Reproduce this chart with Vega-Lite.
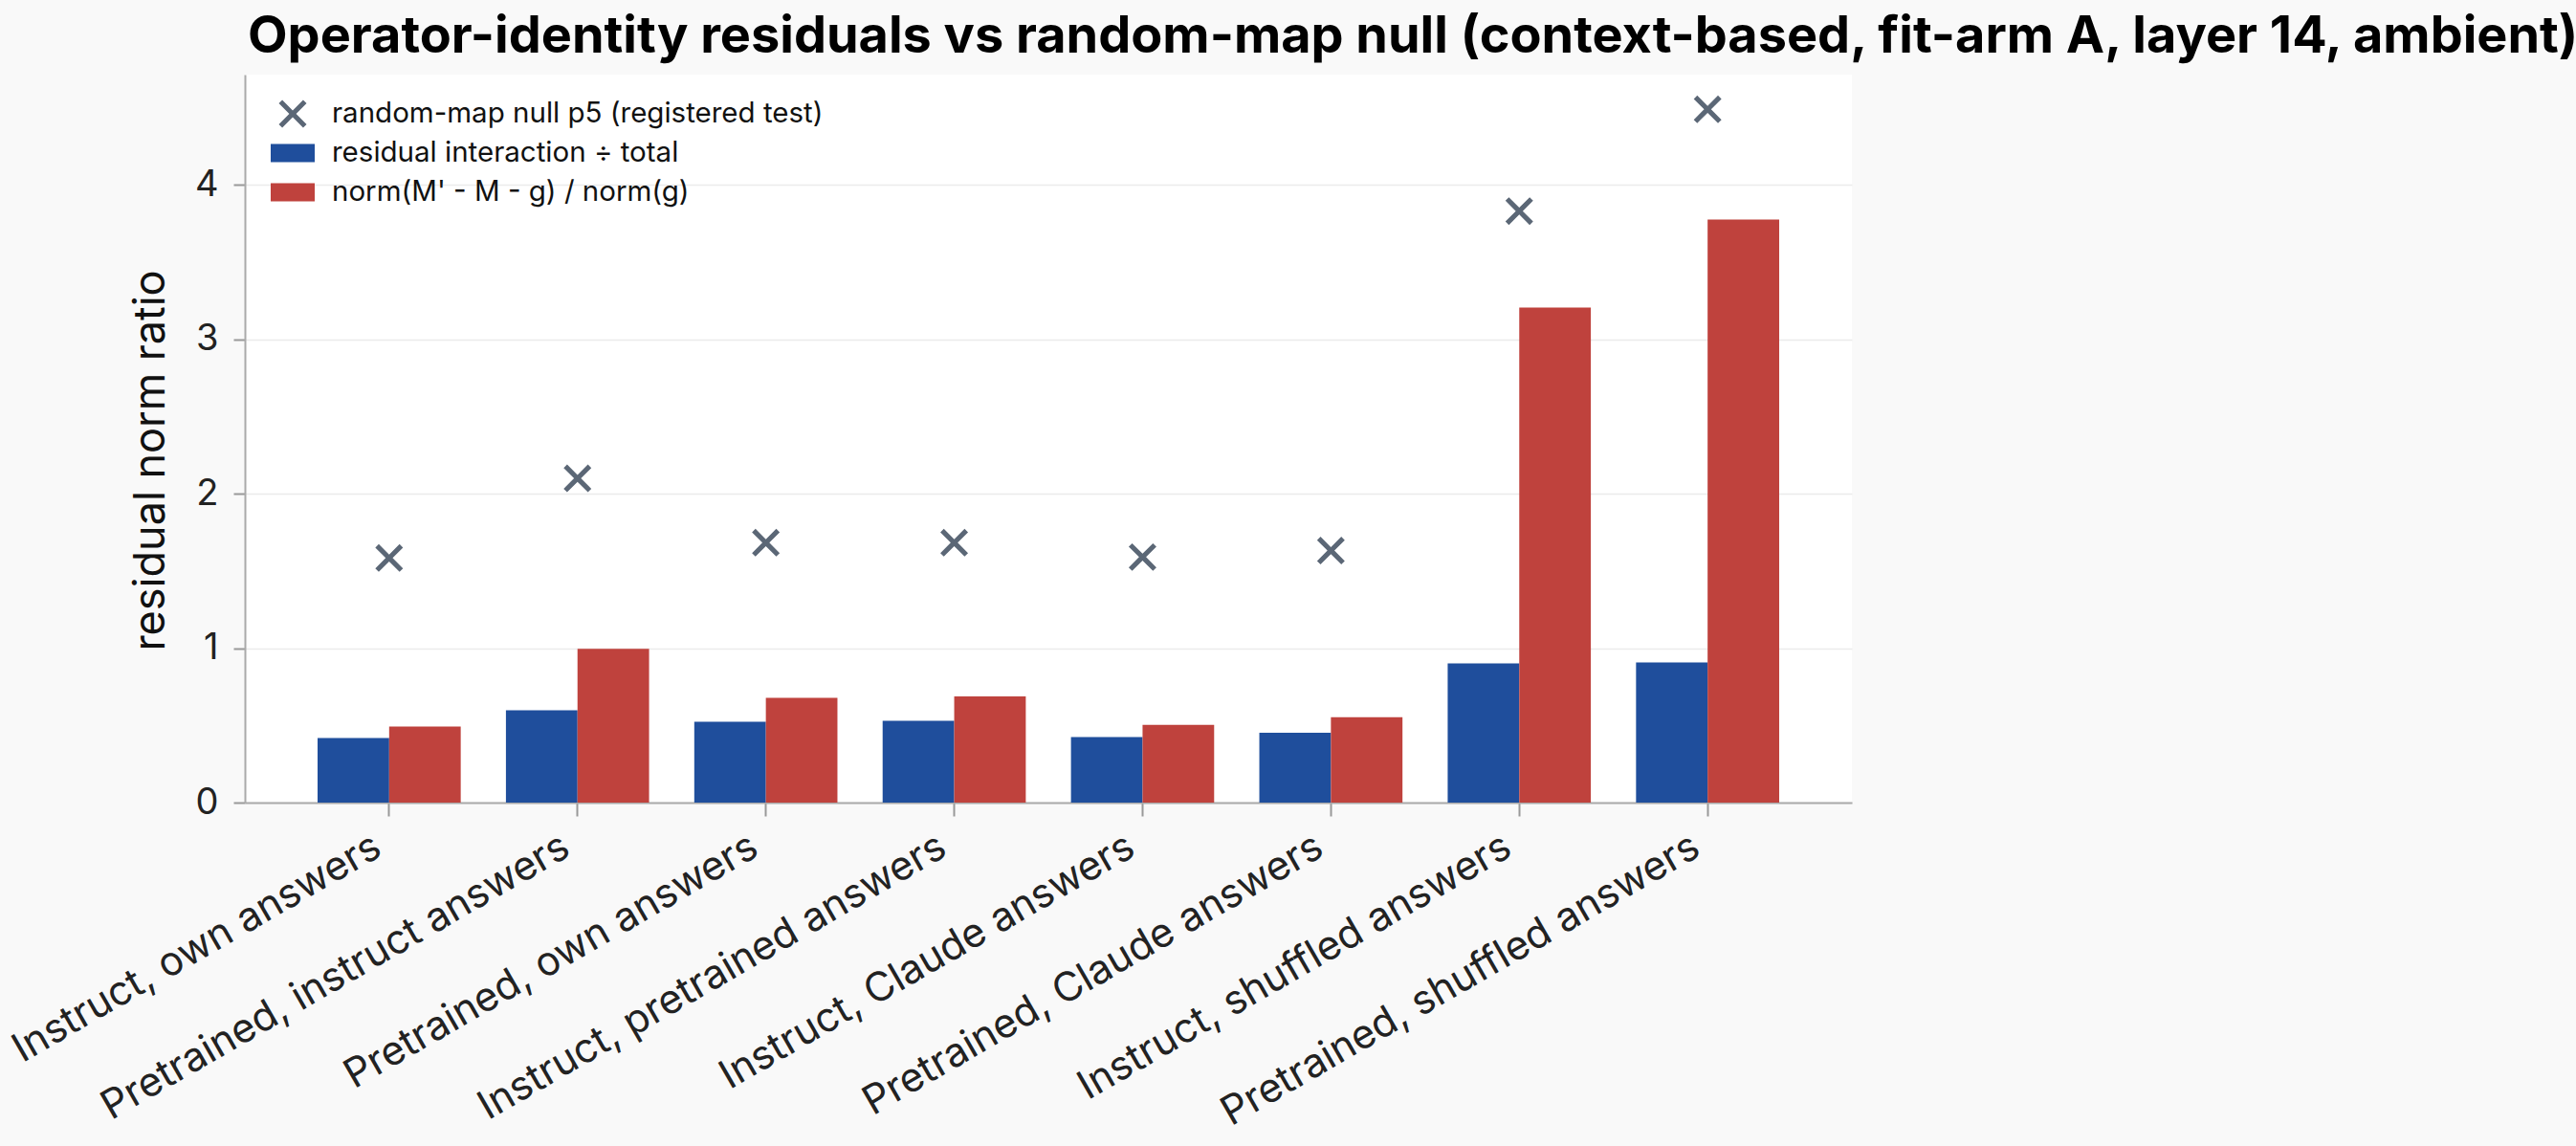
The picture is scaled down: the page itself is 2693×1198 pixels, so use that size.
{
  "$schema": "https://vega.github.io/schema/vega-lite/v6.json",
  "width": 1680,
  "height": 761,
  "autosize": {"type": "none"},
  "padding": {"left": 256, "top": 78, "right": 757, "bottom": 359},
  "background": "#f9f9f9",
  "title": {
    "text": "Operator-identity residuals vs random-map null (context-based, fit-arm A, layer 14, ambient)",
    "anchor": "start",
    "frame": "group",
    "font": "Inter",
    "fontSize": 54,
    "fontWeight": "bold",
    "color": "#000000",
    "baseline": "alphabetic",
    "offset": 31,
    "dx": 3,
    "dy": 62
  },
  "config": {
    "font": "Inter",
    "view": {"stroke": null, "fill": "#ffffff"},
    "axis": {
      "domainColor": "#aaaaaa",
      "domainWidth": 2,
      "tickColor": "#999999",
      "tickWidth": 2,
      "gridColor": "#ebebeb",
      "gridWidth": 1.5,
      "labelColor": "#222222",
      "titleColor": "#111111",
      "labelFont": "Inter",
      "titleFont": "Inter"
    }
  },
  "data": {
    "values": [
      {"condition": "Instruct, own answers", "series": "residual interaction ÷ total", "value": 0.418},
      {"condition": "Instruct, own answers", "series": "norm(M' - M - g) / norm(g)", "value": 0.493},
      {"condition": "Instruct, own answers", "series": "random-map null p5 (registered test)", "value": 1.584},
      {"condition": "Pretrained, instruct answers", "series": "residual interaction ÷ total", "value": 0.598},
      {"condition": "Pretrained, instruct answers", "series": "norm(M' - M - g) / norm(g)", "value": 0.996},
      {"condition": "Pretrained, instruct answers", "series": "random-map null p5 (registered test)", "value": 2.10},
      {"condition": "Pretrained, own answers", "series": "residual interaction ÷ total", "value": 0.524},
      {"condition": "Pretrained, own answers", "series": "norm(M' - M - g) / norm(g)", "value": 0.679},
      {"condition": "Pretrained, own answers", "series": "random-map null p5 (registered test)", "value": 1.683},
      {"condition": "Instruct, pretrained answers", "series": "residual interaction ÷ total", "value": 0.530},
      {"condition": "Instruct, pretrained answers", "series": "norm(M' - M - g) / norm(g)", "value": 0.687},
      {"condition": "Instruct, pretrained answers", "series": "random-map null p5 (registered test)", "value": 1.683},
      {"condition": "Instruct, Claude answers", "series": "residual interaction ÷ total", "value": 0.424},
      {"condition": "Instruct, Claude answers", "series": "norm(M' - M - g) / norm(g)", "value": 0.504},
      {"condition": "Instruct, Claude answers", "series": "random-map null p5 (registered test)", "value": 1.59},
      {"condition": "Pretrained, Claude answers", "series": "residual interaction ÷ total", "value": 0.453},
      {"condition": "Pretrained, Claude answers", "series": "norm(M' - M - g) / norm(g)", "value": 0.553},
      {"condition": "Pretrained, Claude answers", "series": "random-map null p5 (registered test)", "value": 1.632},
      {"condition": "Instruct, shuffled answers", "series": "residual interaction ÷ total", "value": 0.902},
      {"condition": "Instruct, shuffled answers", "series": "norm(M' - M - g) / norm(g)", "value": 3.206},
      {"condition": "Instruct, shuffled answers", "series": "random-map null p5 (registered test)", "value": 3.831},
      {"condition": "Pretrained, shuffled answers", "series": "residual interaction ÷ total", "value": 0.907},
      {"condition": "Pretrained, shuffled answers", "series": "norm(M' - M - g) / norm(g)", "value": 3.776},
      {"condition": "Pretrained, shuffled answers", "series": "random-map null p5 (registered test)", "value": 4.49}
    ]
  },
  "encoding": {
    "x": {
      "field": "condition",
      "type": "nominal",
      "sort": ["Instruct, own answers", "Pretrained, instruct answers", "Pretrained, own answers", "Instruct, pretrained answers", "Instruct, Claude answers", "Pretrained, Claude answers", "Instruct, shuffled answers", "Pretrained, shuffled answers"],
      "scale": {"paddingInner": 0.24, "paddingOuter": 0.386},
      "axis": {
        "title": null,
        "labelAngle": -30,
        "labelAlign": "right",
        "labelBaseline": "top",
        "labelFontSize": 42,
        "labelPadding": 11,
        "labelOffset": -22,
        "tickSize": 14,
        "grid": false,
        "labelLimit": 1000
      }
    },
    "y": {
      "field": "value",
      "type": "quantitative",
      "scale": {"domain": [0, 4.715], "nice": false, "zero": true},
      "axis": {
        "title": "residual norm ratio",
        "titleFontSize": 45,
        "titleFontWeight": "normal",
        "titlePadding": 23,
        "titleY": 403,
        "values": [0, 1, 2, 3, 4],
        "labelFontSize": 38,
        "labelPadding": 16,
        "tickSize": 12,
        "grid": true
      }
    },
    "color": {
      "field": "series",
      "type": "nominal",
      "scale": {
        "domain": ["random-map null p5 (registered test)", "residual interaction ÷ total", "norm(M' - M - g) / norm(g)"],
        "range": ["#5b6776", "#1f4e9c", "#bf423d"]
      },
      "legend": {
        "title": null,
        "orient": "none",
        "legendX": 32,
        "legendY": 23,
        "padding": 0,
        "direction": "vertical",
        "labelFontSize": 29.5,
        "labelColor": "#111111",
        "labelFont": "Inter",
        "labelLimit": 1000,
        "labelOffset": 23,
        "rowPadding": 8,
        "symbolSize": 1296,
        "symbolStrokeWidth": 0,
        "symbolOpacity": 1,
        "symbolType": {"expr": "datum.value === 'random-map null p5 (registered test)' ? 'M0,-0.2L0.606,-0.806L0.806,-0.606L0.2,0L0.806,0.606L0.606,0.806L0,0.2L-0.606,0.806L-0.806,0.606L-0.2,0L-0.806,-0.606L-0.606,-0.806Z' : 'M-1.278,-0.528L1.278,-0.528L1.278,0.528L-1.278,0.528Z'"}
      }
    }
  },
  "layer": [
    {
      "transform": [{"filter": "datum.series !== 'random-map null p5 (registered test)'"}],
      "mark": {"type": "bar", "opacity": 1},
      "encoding": {
        "xOffset": {
          "field": "series",
          "type": "nominal",
          "scale": {"domain": ["residual interaction ÷ total", "norm(M' - M - g) / norm(g)"], "paddingInner": 0, "paddingOuter": 0}
        }
      }
    },
    {
      "transform": [{"filter": "datum.series === 'random-map null p5 (registered test)'"}],
      "mark": {
        "type": "point",
        "shape": "M0,-0.158L0.472,-0.63L0.63,-0.472L0.158,0L0.63,0.472L0.472,0.63L0,0.158L-0.472,0.63L-0.63,0.472L-0.158,0L-0.63,-0.472L-0.472,-0.63Z",
        "filled": true,
        "size": 2116,
        "opacity": 1,
        "strokeWidth": 0
      }
    }
  ]
}
